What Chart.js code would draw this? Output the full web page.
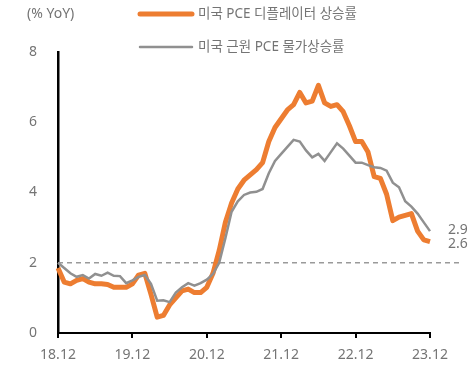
<!DOCTYPE html>
<html>
<head>
<meta charset="utf-8">
<script src="https://cdn.jsdelivr.net/npm/chart.js@4/dist/chart.umd.min.js"></script>
<style>
  html, body { margin: 0; padding: 0; background: #fff; }
  #wrap { position: relative; width: 474px; height: 378px; }
</style>
</head>
<body>
<div id="wrap"><canvas id="chart-pce"></canvas></div>
<script>
// 월별 라벨 (18.12 ~ 23.12)
const labels_month = [
  '18.12',
  '19.01','19.02','19.03','19.04','19.05','19.06','19.07','19.08','19.09','19.10','19.11','19.12',
  '20.01','20.02','20.03','20.04','20.05','20.06','20.07','20.08','20.09','20.10','20.11','20.12',
  '21.01','21.02','21.03','21.04','21.05','21.06','21.07','21.08','21.09','21.10','21.11','21.12',
  '22.01','22.02','22.03','22.04','22.05','22.06','22.07','22.08','22.09','22.10','22.11','22.12',
  '23.01','23.02','23.03','23.04','23.05','23.06','23.07','23.08','23.09','23.10','23.11','23.12'
]

// 미국 PCE 디플레이터 상승률 (% YoY)
const pce_headline = [
  1.85,
  1.45, 1.4, 1.5, 1.55, 1.45, 1.4, 1.4, 1.38, 1.3, 1.3, 1.3, 1.4,
  1.65, 1.7, 1.1, 0.45, 0.5, 0.8, 1.0, 1.2, 1.25, 1.15, 1.15, 1.3,
  1.7, 2.35, 3.15, 3.7, 4.1, 4.35, 4.5, 4.65, 4.85, 5.45, 5.85, 6.1,
  6.35, 6.5, 6.85, 6.55, 6.6, 7.05, 6.55, 6.45, 6.5, 6.3, 5.9, 5.45,
  5.45, 5.15, 4.45, 4.4, 3.95, 3.2, 3.3, 3.35, 3.4, 2.9, 2.65, 2.6
]

// 미국 근원 PCE 물가상승률 (% YoY)
const pce_core = [
  2.0,
  1.85, 1.7, 1.6, 1.65, 1.55, 1.68, 1.63, 1.72, 1.63, 1.62, 1.42, 1.5,
  1.6, 1.65, 1.4, 0.92, 0.93, 0.88, 1.15, 1.3, 1.42, 1.35, 1.42, 1.52,
  1.68, 2.0, 2.7, 3.45, 3.75, 3.93, 4.0, 4.02, 4.1, 4.55, 4.9, 5.1,
  5.3, 5.5, 5.45, 5.2, 5.0, 5.1, 4.9, 5.15, 5.4, 5.25, 5.05, 4.85,
  4.85, 4.78, 4.72, 4.7, 4.62, 4.28, 4.15, 3.75, 3.6, 3.4, 3.15, 2.9
]

const y_ticks = [0, 2, 4, 6, 8]
const target_line = 2

const FONT = "'Noto Sans', 'Noto Sans CJK KR', sans-serif"
const TXT = '#747474'
const ORANGE = '#ED7D31'
const GRAY = '#909090'

// 범례, 단위, 목표선, 끝값 라벨
const extras = {
  id: 'extras',
  beforeDatasetsDraw(chart) {
    const ctx = chart.ctx
    const y = chart.scales.y
    const area = chart.chartArea
    const yy = y.getPixelForValue(target_line)
    ctx.save()
    ctx.strokeStyle = '#9a9a9a'
    ctx.lineWidth = 1.5
    ctx.setLineDash([5, 4])
    ctx.beginPath()
    ctx.moveTo(area.left, yy)
    ctx.lineTo(area.right + 30, yy)
    ctx.stroke()
    ctx.restore()
  },
  afterDraw(chart) {
    const ctx = chart.ctx
    ctx.save()
    ctx.font = '14px ' + FONT
    ctx.fillStyle = TXT
    ctx.textBaseline = 'middle'
    ctx.textAlign = 'left'
    ctx.fillText('(% YoY)', 27, 14)

    // 범례
    ctx.font = '13.5px ' + FONT
    const items = [
      { text: '미국 PCE 디플레이터 상승률', color: ORANGE, w: 5, y: 14 },
      { text: '미국 근원 PCE 물가상승률', color: GRAY, w: 2.5, y: 47 },
    ]
    items.forEach(it => {
      ctx.strokeStyle = it.color
      ctx.lineWidth = it.w
      ctx.lineCap = 'round'
      ctx.beginPath()
      ctx.moveTo(140, it.y)
      ctx.lineTo(192, it.y)
      ctx.stroke()
      ctx.fillText(it.text, 198, it.y)
    })

    // 끝값 라벨
    ctx.font = '14px ' + FONT
    const x = chart.scales.x
    const last = labels_month.length - 1
    const px = x.getPixelForValue(last) + 18
    const y = chart.scales.y
    ctx.fillText(pce_core[last].toFixed(1), px, y.getPixelForValue(pce_core[last]) - 1)
    ctx.fillText(pce_headline[last].toFixed(1), px, y.getPixelForValue(pce_headline[last]) + 2)
    ctx.restore()
  }
}

const data_pce = {
  labels: labels_month,
  datasets: [{
    label: '미국 PCE 디플레이터 상승률',
    data: pce_headline,
    borderColor: ORANGE,
    backgroundColor: ORANGE,
    borderWidth: 5,
    pointRadius: 0,
    tension: 0,
    order: 1,
    borderJoinStyle: 'round',
  },
  {
    label: '미국 근원 PCE 물가상승률',
    data: pce_core,
    borderColor: GRAY,
    backgroundColor: GRAY,
    borderWidth: 2.5,
    pointRadius: 0,
    tension: 0,
    order: 0,
  }]
}

const config_pce = {
  type: 'line',
  data: data_pce,
  plugins: [extras],
  options: {
    responsive: false,
    animation: false,
    devicePixelRatio: 1,
    layout: { padding: { top: 52, right: 44, left: 0, bottom: 0 } },
    plugins: {
      legend: { display: false },
      tooltip: { enabled: false },
    },
    scales: {
      x: {
        type: 'category',
        offset: false,
        afterFit(scale) { scale.height = 45 },
        border: { display: true, color: '#000', width: 2 },
        grid: {
          drawOnChartArea: false,
          drawTicks: true,
          tickLength: 5,
          lineWidth: 2,
          color: ctx => (ctx.index % 12 === 0 ? '#000' : 'rgba(0,0,0,0)'),
        },
        ticks: {
          autoSkip: false,
          maxRotation: 0,
          padding: 9,
          color: TXT,
          font: { family: FONT, size: 14 },
          callback: (v, i) => (i % 12 === 0 ? labels_month[i] : ''),
        },
      },
      y: {
        min: 0,
        max: 8,
        afterFit(scale) { scale.width = 58 },
        afterBuildTicks(scale) { scale.ticks = y_ticks.map(v => ({ value: v })) },
        border: { display: true, color: '#000', width: 2.5 },
        grid: { display: false, drawTicks: false },
        ticks: {
          padding: 21,
          color: TXT,
          font: { family: FONT, size: 14 },
        },
      },
    },
  },
}

const canvas = document.getElementById('chart-pce')
canvas.width = 474
canvas.height = 378
const myChart_pce = new Chart(canvas, config_pce)
</script>
</body>
</html>
